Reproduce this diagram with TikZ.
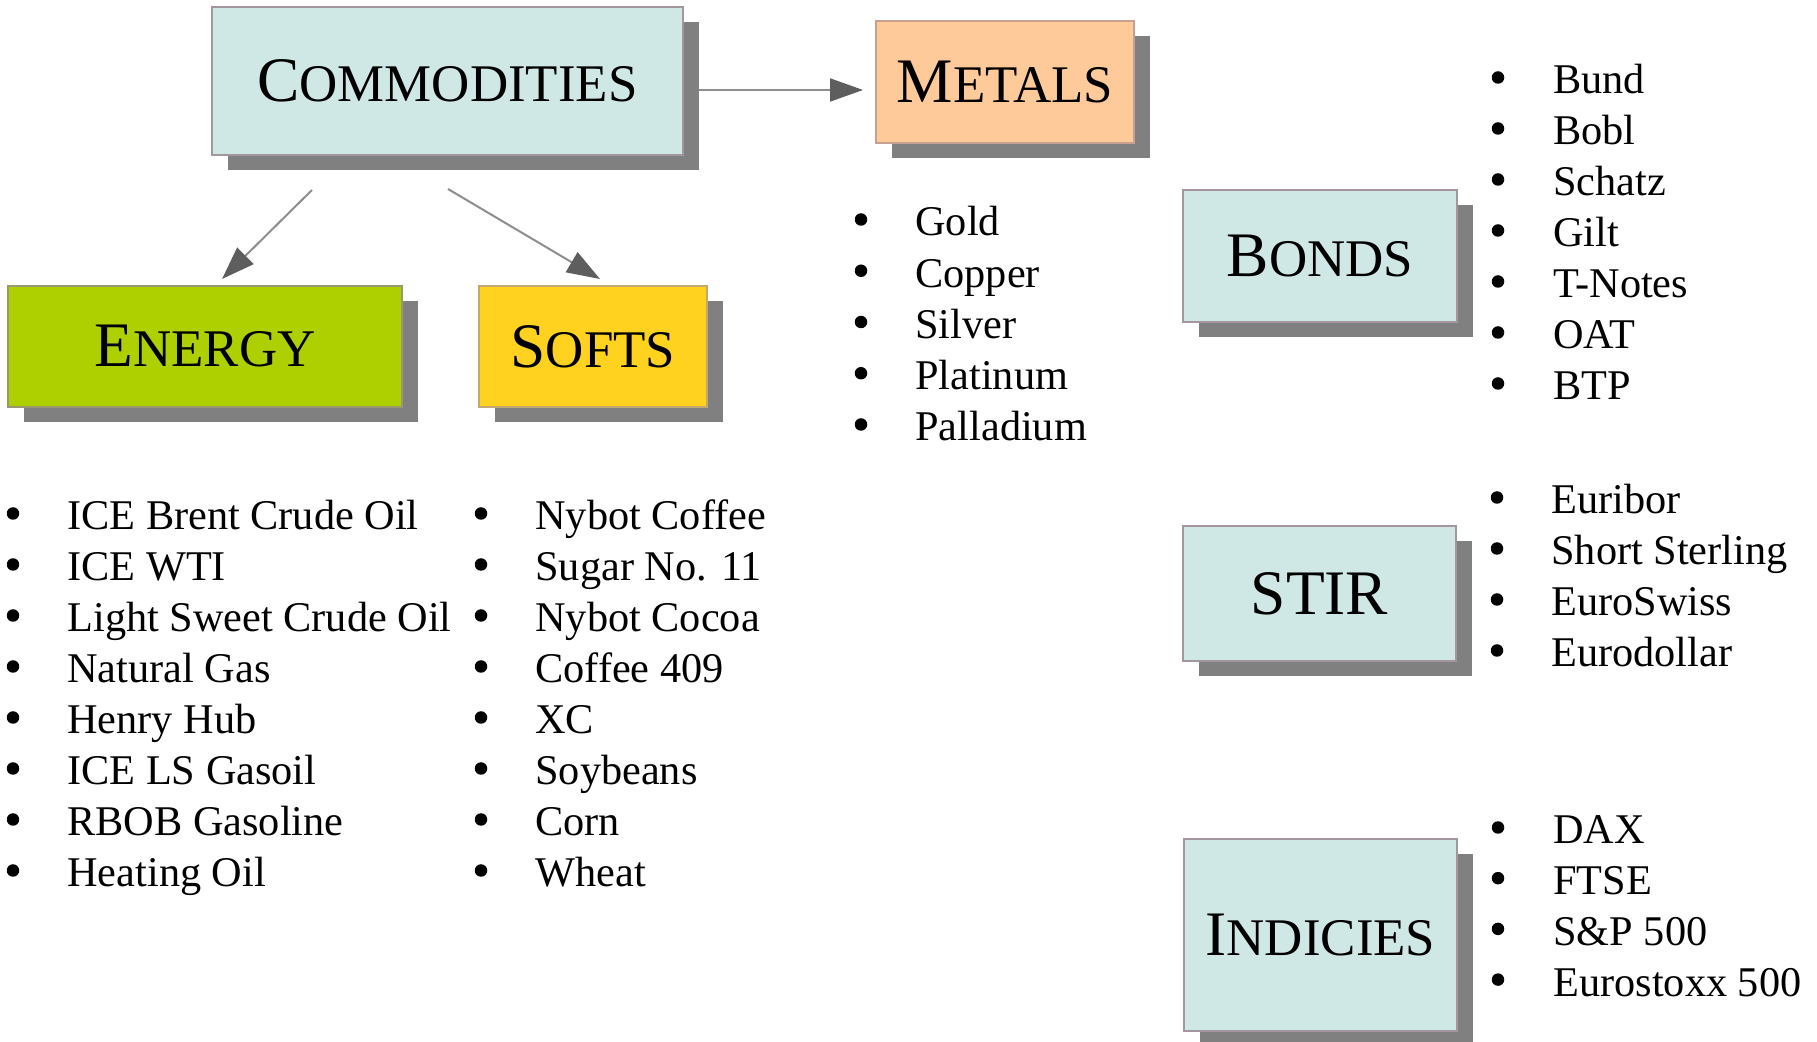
\documentclass[tikz,border=0pt]{standalone}
\usepackage{fontspec}
\setmainfont{Liberation Serif}
\usetikzlibrary{arrows.meta,shadows}
\definecolor{cbox}{HTML}{D0E8E5}
\definecolor{cbord}{HTML}{A3969E}
\definecolor{cbordE}{HTML}{9A9870}
\definecolor{cbordS}{HTML}{C4A872}
\definecolor{cbordM}{HTML}{C8A090}
\definecolor{cshadow}{HTML}{808080}
\definecolor{cenergy}{HTML}{AFD000}
\definecolor{csofts}{HTML}{FFD21F}
\definecolor{cmetals}{HTML}{FFCA99}
\definecolor{cline}{HTML}{8E8E8E}
\definecolor{chead}{HTML}{5E5E5E}
\newcommand\ttl[2]{{\fontsize{31.7pt}{36pt}\selectfont #1\fontsize{26.45pt}{30pt}\selectfont #2}}
\newcommand\ttlall[1]{{\fontsize{31.7pt}{36pt}\selectfont #1}}
\begin{document}
\begin{tikzpicture}[x=0.5pt,y=-0.5pt,
  catbox/.style={draw=cbord, line width=0.75pt, inner sep=0pt, outer sep=0pt,
    drop shadow={shadow xshift=7.75pt, shadow yshift=-7.75pt, fill=cshadow, opacity=1}},
  item/.style={anchor=base west, inner sep=0pt, font=\fontsize{21.15pt}{25pt}\selectfont},
  bul/.style={circle, fill=black, inner sep=0pt, minimum size=6.25pt},
  conn/.style={draw=cline, line width=1pt,
    -{Triangle[length=16.5pt,width=11.5pt,color=chead,fill=chead]}}]
\useasboundingbox (0,0) rectangle (1817,1042);

% category boxes
\node[catbox, fill=cbox, minimum width=235.5pt, minimum height=74pt] (com) at (447.5,81) {\ttl{C}{OMMODITIES}};
\node[catbox, fill=cmetals, draw=cbordM, minimum width=129pt, minimum height=61pt] (metals) at (1005,82) {\ttl{M}{ETALS}};
\node[catbox, fill=cenergy, draw=cbordE, minimum width=197pt, minimum height=60.5pt] (energy) at (205,346.5) {\ttl{E}{NERGY}};
\node[catbox, fill=csofts, draw=cbordS, minimum width=114pt, minimum height=60.5pt] (softs) at (593,346.5) {\ttl{S}{OFTS}};
\node[catbox, fill=cbox, minimum width=137pt, minimum height=66pt] (bonds) at (1320,256) {\ttl{B}{ONDS}};
\node[catbox, fill=cbox, minimum width=136.5pt, minimum height=67.5pt] (stir) at (1319.5,593.5) {\ttlall{STIR}};
\node[catbox, fill=cbox, minimum width=136.5pt, minimum height=96pt] (indicies) at (1320.5,935) {\ttl{I}{NDICIES}};

% connectors
\draw[conn] ([shift={(16,9)}]com.east) -- ([shift={(-13,8)}]metals.west);
\draw[conn] ([shift={(-135.5,35)}]com.south) -- ([shift={(17,-7)}]energy.north);
\draw[conn] ([shift={(0.5,34)}]com.south) -- ([shift={(7,-7)}]softs.north);

% lists
\foreach \t [count=\i] in {Gold,Copper,Silver,Platinum,Palladium}{
  \node[bul] (mb\i) at (861,{219.5+51.25*(\i-1)}) {};
  \node[item] (mi\i) at (915,{236+51.25*(\i-1)}) {\t};
}
\foreach \t [count=\i] in {Bund,Bobl,Schatz,Gilt,T-Notes,OAT,BTP}{
  \node[bul] (bb\i) at (1498,{77.5+51*(\i-1)}) {};
  \node[item] (bi\i) at (1553,{94+51*(\i-1)}) {\t};
}
\foreach \t [count=\i] in {Euribor,Short Sterling,EuroSwiss,Eurodollar}{
  \node[bul] (sb\i) at (1497,{497.5+51*(\i-1)}) {};
  \node[item] (si\i) at (1551,{514+51*(\i-1)}) {\t};
}
\foreach \t [count=\i] in {DAX,FTSE,S\&P 500,Eurostoxx 500}{
  \node[bul] (ib\i) at (1498,{827.5+50.7*(\i-1)}) {};
  \node[item] (ii\i) at (1553,{844+50.7*(\i-1)}) {\t};
}
\foreach \t [count=\i] in {ICE Brent Crude Oil,ICE WTI,Light Sweet Crude Oil,Natural Gas,Henry Hub,ICE LS Gasoil,RBOB Gasoline,Heating Oil}{
  \node[bul] (eb\i) at (13,{513.5+51*(\i-1)}) {};
  \node[item] (ei\i) at (67,{530+51*(\i-1)}) {\t};
}
\foreach \t [count=\i] in {Nybot Coffee,Sugar No. 11,Nybot Cocoa,Coffee 409,XC,Soybeans,Corn,Wheat}{
  \node[bul] (fb\i) at (481,{513.5+51*(\i-1)}) {};
  \node[item] (fi\i) at (535,{530+51*(\i-1)}) {\t};
}
\end{tikzpicture}
\end{document}
